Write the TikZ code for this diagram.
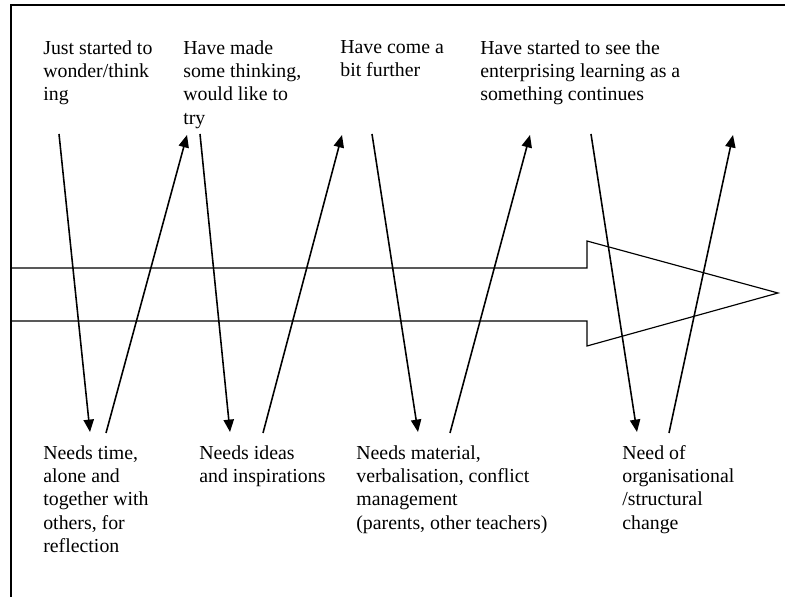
\documentclass[tikz,border=0pt]{standalone}
\usepackage{fontspec}
\setmainfont{Liberation Serif}
\usetikzlibrary{arrows.meta}

\begin{document}
\begin{tikzpicture}[x=.605pt,y=-.605pt,
txt/.style={anchor=north west,align=left,inner sep=0pt,font=\fontsize{12}{14.1}\selectfont},
arr/.style={-{Triangle[length=7.5pt,width=6.2pt]},line width=.95pt},
frame/.style={line width=.75pt}]
\useasboundingbox(0,0)rectangle(785,597);
\draw[frame](785,5)--(11,5)--(11,597);
% the big arrow
\draw[line width=.7pt](11,268)--(587,268)--(587,241)--(778,293)--(587,346)--(587,321)--(11,321)--cycle;
% stages
\node[txt](wonder)at(43,40){Just started to\\wonder/think\\ing};
\node[txt](try)at(183,40){Have made\\some thinking,\\would like to\\try};
\node[txt](further)at(340,40){Have come a\\bit further};
\node[txt](continues)at(480,40){Have started to see the\\enterprising learning as a\\something continues};
% needs
\node[txt](time)at(43,445){Needs time,\\alone and\\together with\\others, for\\reflection};
\node[txt](ideas)at(199,445){Needs ideas\\and inspirations};
\node[txt](material)at(356,445){Needs material,\\verbalisation, conflict\\management\\(parents, other teachers)};
\node[txt](change)at(622,445){Need of\\organisational\\/structural\\change};
% arrow ends
\coordinate(d1)at(59,134);\coordinate(d1e)at(90,432);
\coordinate(u1)at(106,433);\coordinate(u1e)at(187,135);
\coordinate(d2)at(200,134);\coordinate(d2e)at(230,432);
\coordinate(u2)at(263,433);\coordinate(u2e)at(342,135);
\coordinate(d3)at(372,134);\coordinate(d3e)at(418,432);
\coordinate(u3)at(450,433);\coordinate(u3e)at(530,135);
\coordinate(d4)at(591,134);\coordinate(d4e)at(637,432);
\coordinate(u4)at(669,433);\coordinate(u4e)at(733,135);
\foreach \k in {1,2,3,4}{\draw[arr](d\k)--(d\k e);\draw[arr](u\k)--(u\k e);}
\end{tikzpicture}
\end{document}
